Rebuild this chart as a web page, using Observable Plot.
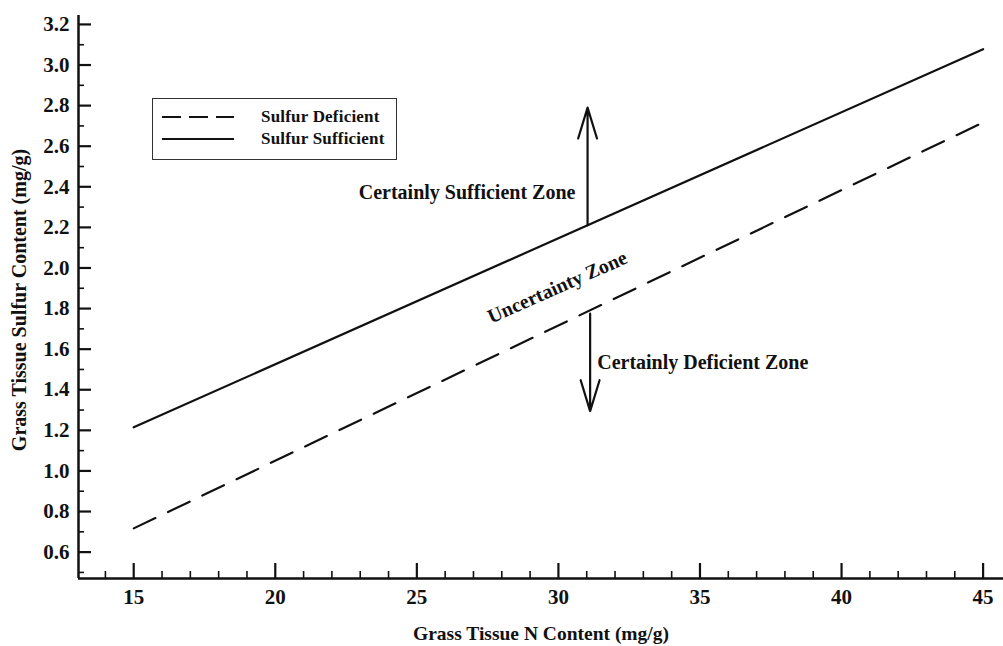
<!DOCTYPE html>
<html>
<head>
<meta charset="utf-8">
<script src="https://cdn.jsdelivr.net/npm/d3@7"></script>
<script src="https://cdn.jsdelivr.net/npm/@observablehq/plot@0.6"></script>
<style>
  html, body { margin: 0; padding: 0; background: #fff; }
  #wrap { position: relative; width: 1003px; height: 646px; }
  #legend { position: absolute; left: 152px; top: 98px; width: 243px; height: 60px;
    border: 1.3px solid #333; background: #fff; font-family: "Liberation Serif", "Times New Roman", serif;
    font-weight: bold; font-size: 17px; letter-spacing: 0.2px; color: #111; }
  .row { position: absolute; left: 9px; display: flex; align-items: center; line-height: 20px; }
  .row span { margin-left: 27px; }
</style>
</head>
<body>
<div id="wrap">
  <div id="chart"></div>
  <div id="legend">
    <div class="row" style="top:8px"><svg width="72" height="4"><line x1="0" y1="2" x2="72" y2="2" stroke="#111" stroke-width="2" stroke-dasharray="19,8"/></svg><span>Sulfur Deficient</span></div>
    <div class="row" style="top:30px"><svg width="72" height="4"><line x1="0" y1="2" x2="72" y2="2" stroke="#111" stroke-width="2"/></svg><span>Sulfur Sufficient</span></div>
  </div>
</div>
<script>
// ---- data ----
const nContent = [15, 45];
const sulfurSufficient = [1.215, 3.078];
const sulfurDeficient = [0.717, 2.717];
const xTicks = [15, 20, 25, 30, 35, 40, 45];
const xMinorTicks = [14, 16, 17, 18, 19, 21, 22, 23, 24, 26, 27, 28, 29, 31, 32, 33, 34, 36, 37, 38, 39, 41, 42, 43, 44];
const yTicks = [0.6, 0.8, 1.0, 1.2, 1.4, 1.6, 1.8, 2.0, 2.2, 2.4, 2.6, 2.8, 3.0, 3.2];
const yMinorTicks = [0.5, 0.7, 0.9, 1.1, 1.3, 1.5, 1.7, 1.9, 2.1, 2.3, 2.5, 2.7, 2.9, 3.1];
const arrows = [
  {x: 31.03, y1: 2.21, y2: 2.79},
  {x: 31.12, y1: 1.775, y2: 1.295}
];
const zoneLabels = [
  {x: 30.6, y: 2.372, text: "Certainly Sufficient Zone", anchor: "end", rotate: 0},
  {x: 31.37, y: 1.535, text: "Certainly Deficient Zone", anchor: "start", rotate: 0},
  {x: 29.96, y: 1.905, text: "Uncertainty Zone", anchor: "middle", rotate: -24}
];
const xLabel = "Grass Tissue N Content (mg/g)";
const yLabel = "Grass Tissue Sulfur Content (mg/g)";

const suff = nContent.map((n, i) => ({n, s: sulfurSufficient[i]}));
const def = nContent.map((n, i) => ({n, s: sulfurDeficient[i]}));
const font = "Liberation Serif, Times New Roman, serif";
const fmt = d3.format(".1f");

const chart = Plot.plot({
  width: 1003,
  height: 646,
  marginLeft: 78,
  marginRight: 0,
  marginTop: 15,
  marginBottom: 68,
  style: {fontFamily: font, fontWeight: "bold", color: "#111", background: "#fff"},
  x: {domain: [13.05, 45.72]},
  y: {domain: [0.47, 3.244]},
  marks: [
    // axis lines
    Plot.ruleX([13.05], {strokeWidth: 2.5, stroke: "#111"}),
    Plot.ruleY([0.47], {strokeWidth: 2.5, stroke: "#111"}),
    // inward ticks
    Plot.axisY(yTicks, {tickSize: -13, tickFormat: () => "", strokeWidth: 2.2, label: null}),
    Plot.axisY(yMinorTicks, {tickSize: -6, tickFormat: () => "", strokeWidth: 1.6, label: null}),
    Plot.axisX(xTicks, {tickSize: -15, tickFormat: () => "", strokeWidth: 2.2, label: null}),
    Plot.axisX(xMinorTicks, {tickSize: -7, tickFormat: () => "", strokeWidth: 1.6, label: null}),
    // tick labels
    Plot.text(yTicks, {y: d => d, text: d => fmt(d), frameAnchor: "left", textAnchor: "end", dx: -9, fontSize: 21, fontWeight: "bold", fill: "#111"}),
    Plot.text(xTicks, {x: d => d, text: d => String(d), frameAnchor: "bottom", lineAnchor: "top", dy: 11, fontSize: 21, fontWeight: "bold", fill: "#111"}),
    // axis titles
    Plot.text([xLabel], {text: d => d, frameAnchor: "bottom", dy: 61, fontSize: 19.5, fontWeight: "bold"}),
    Plot.text([yLabel], {text: d => d, frameAnchor: "left", textAnchor: "middle", dx: -59, dy: 3, rotate: -90, fontSize: 20, fontWeight: "bold"}),
    // data lines
    Plot.line(suff, {x: "n", y: "s", stroke: "#111", strokeWidth: 2.2}),
    Plot.line(def, {x: "n", y: "s", stroke: "#111", strokeWidth: 2.2, strokeDasharray: "24,14"}),
    // arrows
    Plot.arrow(arrows, {x: "x", y1: "y1", y2: "y2", stroke: "#111", strokeWidth: 2.2, headLength: 22, headAngle: 34}),
    // zone labels
    Plot.text(zoneLabels.filter(d => d.anchor === "end"), {x: "x", y: "y", text: "text", textAnchor: "end", fontSize: 20, fontWeight: "bold"}),
    Plot.text(zoneLabels.filter(d => d.anchor === "start"), {x: "x", y: "y", text: "text", textAnchor: "start", fontSize: 20, fontWeight: "bold"}),
    Plot.text(zoneLabels.filter(d => d.anchor === "middle"), {x: "x", y: "y", text: "text", rotate: -24, fontSize: 20, fontWeight: "bold"})
  ]
});
document.getElementById("chart").appendChild(chart);
</script>
</body>
</html>
